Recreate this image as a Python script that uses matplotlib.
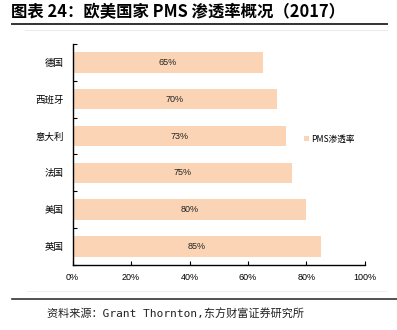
import matplotlib
matplotlib.use("Agg")
import matplotlib.pyplot as plt
from matplotlib.lines import Line2D
from matplotlib.patches import Patch

plt.rcParams['font.family'] = ['Noto Sans CJK SC', 'DejaVu Sans']

countries = ['德国', '西班牙', '意大利', '法国', '美国', '英国']
penetration = [65, 70, 73, 75, 80, 85]
x_ticks = [0, 20, 40, 60, 80, 100]
x_tick_labels = ['0%', '20%', '40%', '60%', '80%', '100%']
series_name = 'PMS渗透率'
title = '图表 24：欧美国家 PMS 渗透率概况（2017）'
source = '资料来源：Grant Thornton,东方财富证券研究所'

bar_color = '#FAD4B4'

fig = plt.figure(figsize=(3.97, 3.30), dpi=100)
ax = fig.add_axes([0.183, 0.197, 0.736, 0.670])

ypos = list(range(len(countries)))
ax.barh(ypos, penetration, height=0.56, color=bar_color, zorder=2)
for y, v in zip(ypos, penetration):
    ax.text(v / 2, y, f'{v}%', ha='center', va='center', fontsize=6.5,
            family=['Liberation Sans', 'DejaVu Sans'], color='#222222', zorder=3)

ax.set_xlim(0, 100)
ax.set_ylim(len(countries) - 0.5, -0.5)
ax.set_xticks(x_ticks)
ax.set_xticklabels(x_tick_labels, fontsize=6.5, family=['Liberation Sans', 'DejaVu Sans'])
ax.set_yticks(ypos)
ax.set_yticklabels(countries, fontsize=6.8)
ax.set_yticks([i - 0.5 for i in range(len(countries) + 1)], minor=True)
ax.tick_params(axis='y', which='major', length=0, pad=6.5)
ax.tick_params(axis='y', which='minor', length=3, direction='in', width=0.8)
ax.tick_params(axis='x', which='major', length=3, direction='in', width=0.8, pad=6)
for s in ['top', 'right']:
    ax.spines[s].set_visible(False)
for s in ['left', 'bottom']:
    ax.spines[s].set_linewidth(1.0)
    ax.spines[s].set_color('black')

fig.legend(handles=[Patch(facecolor=bar_color, edgecolor='none')], labels=[series_name],
           loc='center left', bbox_to_anchor=(0.745, 0.579), frameon=False,
           fontsize=6.2, handlelength=0.6, handleheight=0.6, handletextpad=0.3)

fig.text(0.028, 0.963, title, fontsize=11.8, fontweight='bold', va='center', ha='left')
fig.add_artist(Line2D([0.03, 0.975], [0.928, 0.928], color='#333333', lw=1.4))
fig.add_artist(Line2D([0.063, 0.975], [0.909, 0.909], color='#e6e6e6', lw=0.6))
fig.add_artist(Line2D([0.068, 0.975], [0.117, 0.117], color='#eeeeee', lw=0.6))
fig.add_artist(Line2D([0.03, 1.0], [0.094, 0.094], color='#333333', lw=1.2))
fig.text(0.118, 0.048, source, fontsize=8, va='center', ha='left',
         family=['DejaVu Sans Mono', 'Noto Sans CJK SC'], color='#222222')

fig.savefig('out.png', dpi=100)
